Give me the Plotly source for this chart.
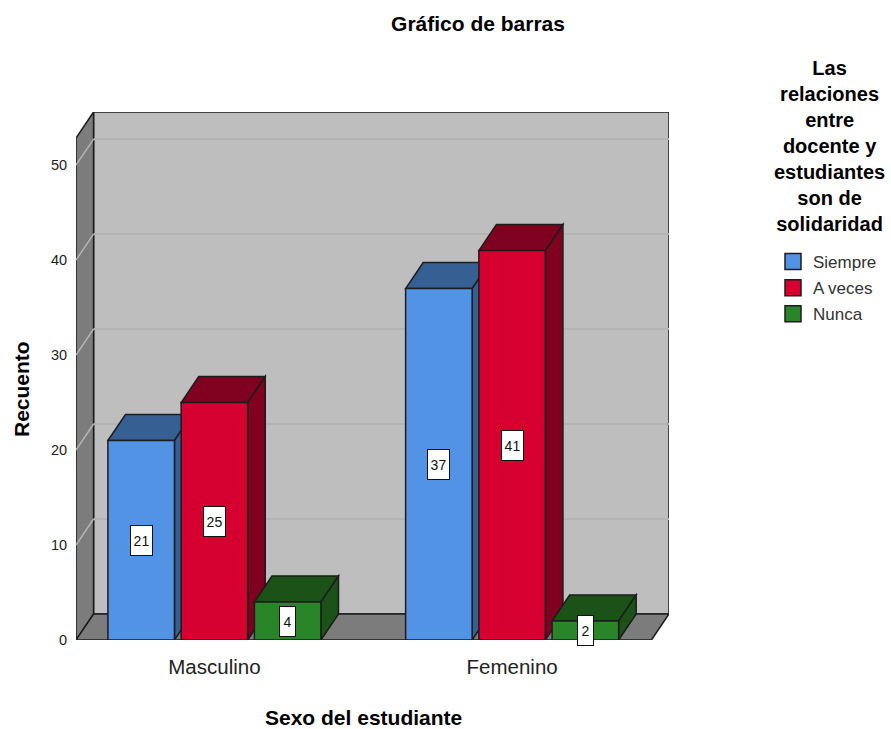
import plotly.graph_objects as go

categories = ["Masculino", "Femenino"]
series_names = ["Siempre", "A veces", "Nunca"]
siempre = [21, 37]
a_veces = [25, 41]
nunca = [4, 2]
y_ticks = [0, 10, 20, 30, 40, 50]
legend_title = "Las<br>relaciones<br>entre<br>docente y<br>estudiantes<br>son de<br>solidaridad"

series = [siempre, a_veces, nunca]
front = ["#5393E5", "#D5002F", "#2A8529"]
shade = ["#366094", "#800020", "#1B5217"]
EDGE = "#1c1c1c"
FONT = "'Liberation Sans', Arial, sans-serif"

# plot geometry in data units
X0, X1 = -0.465, 1.468          # front plane of the axis
DX, DY = 0.059, 2.74            # depth of the 3-D look
YTOP = 52.85
BAR_W, STEP = 0.2235, 0.246

ML, MR, MT, MB = 76, 222, 112, 89
W, H = 891, 729


def px(x):
    return (x - ML) / (W - ML - MR)


def py(y):
    return (H - MB - y) / (H - MT - MB)


def poly(points, fill, line=EDGE, width=1.5):
    path = "M" + " L".join(f"{x},{y}" for x, y in points) + " Z"
    return dict(type="path", path=path, xref="x", yref="y", layer="below",
                fillcolor=fill, line=dict(color=line, width=width))


def seg(x0, y0, x1, y1, color, width=1.5):
    return dict(type="line", x0=x0, y0=y0, x1=x1, y1=y1, xref="x", yref="y",
                layer="below", line=dict(color=color, width=width))


shapes = [
    poly([(X0 + DX, DY), (X1 + DX, DY), (X1 + DX, YTOP + DY), (X0 + DX, YTOP + DY)], "#BEBEBE"),
    poly([(X0, 0), (X0 + DX, DY), (X0 + DX, YTOP + DY), (X0, YTOP)], "#7C7C7C"),
    poly([(X0, 0), (X1, 0), (X1 + DX, DY), (X0 + DX, DY)], "#7C7C7C"),
]
for v in y_ticks[1:]:
    shapes.append(seg(X0 + DX, v + DY, X1 + DX, v + DY, "#B3B3B3", 2))
    shapes.append(seg(X0, v, X0 + DX, v + DY, "#B4B4B4", 1.5))

annotations = []
for s, values in enumerate(series):
    for c, v in enumerate(values):
        left = c + (s - 1) * STEP - BAR_W / 2
        right = left + BAR_W
        shapes.append(poly([(left, v), (left + DX, v + DY), (right + DX, v + DY), (right, v)], shade[s]))
        shapes.append(poly([(right, 0), (right + DX, DY), (right + DX, v + DY), (right, v)], shade[s]))
        annotations.append(dict(x=(left + right) / 2, y=v / 2, xref="x", yref="y", text=str(v),
                                showarrow=False, bgcolor="white", bordercolor="#111111",
                                borderwidth=1, width=19 if v >= 10 else 13, height=27,
                                font=dict(family=FONT, size=14, color="#111111")))

annotations += [
    dict(x=px(21), y=py(389), xref="paper", yref="paper", xanchor="center", yanchor="middle",
         text="Recuento", textangle=-90, showarrow=False,
         font=dict(family=FONT, size=21, color="black", weight="bold")),
    dict(x=px(363), y=py(717), xref="paper", yref="paper", xanchor="center", yanchor="middle",
         text="Sexo del estudiante", showarrow=False,
         font=dict(family=FONT, size=21, color="black", weight="bold")),
    dict(x=px(830), y=py(146), xref="paper", yref="paper", xanchor="center", yanchor="middle",
         text=legend_title, align="center", showarrow=False,
         font=dict(family=FONT, size=20, color="black", weight="bold")),
]

fig = go.Figure()
for s, name in enumerate(series_names):
    fig.add_trace(go.Bar(x=categories, y=series[s], name=name, showlegend=False, legendgroup=name,
                         marker=dict(color=front[s], line=dict(color=EDGE, width=1.5))))
for s, name in enumerate(series_names):
    fig.add_trace(go.Scatter(x=[None], y=[None], name=name, mode="markers", legendgroup=name,
                             marker=dict(symbol="square", size=16, color=front[s],
                                         line=dict(color=EDGE, width=1.5))))

fig.update_layout(
    width=W, height=H, autosize=False,
    margin=dict(l=ML, r=MR, t=MT, b=MB, autoexpand=False),
    paper_bgcolor="white", plot_bgcolor="white",
    barmode="group", bargap=0.262, bargroupgap=0.0915,
    title=dict(text="Gráfico de barras", x=478 / W, xanchor="center", y=1 - 24 / H, yanchor="middle",
               font=dict(family=FONT, size=21, color="black", weight="bold")),
    xaxis=dict(type="category", categoryorder="array", categoryarray=categories,
               range=[X0, X1 + DX], showgrid=False, zeroline=False, showline=False,
               ticks="outside", ticklen=8, tickcolor="rgba(0,0,0,0)",
               tickfont=dict(family=FONT, size=20.5, color="#222222")),
    yaxis=dict(range=[0, YTOP + DY], tickvals=y_ticks, showgrid=False, zeroline=False, showline=False,
               ticks="outside", ticklen=5, tickcolor="rgba(0,0,0,0)",
               tickfont=dict(family=FONT, size=14.5, color="#222222")),
    legend=dict(x=px(773), xanchor="left", y=py(244), yanchor="top", tracegroupgap=1,
                itemwidth=30, font=dict(family=FONT, size=17, color="#333333"),
                bgcolor="rgba(0,0,0,0)"),
    shapes=shapes,
    annotations=annotations,
)

fig.write_html("out.html", config=dict(displayModeBar=False), post_script="document.body.style.margin='0';")
